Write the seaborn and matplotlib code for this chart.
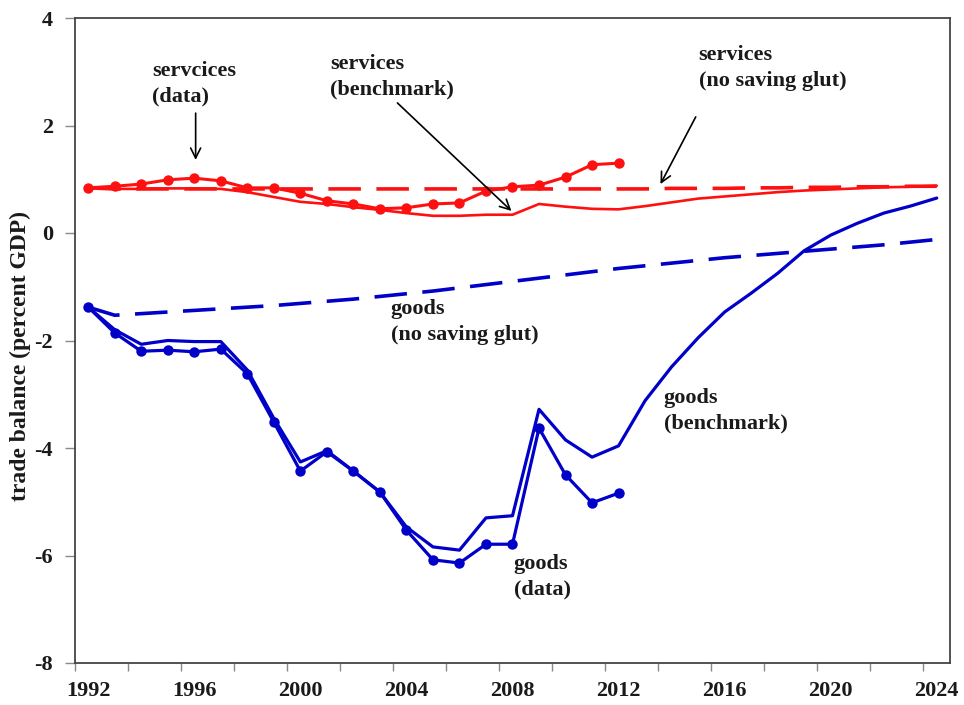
import matplotlib
matplotlib.use("Agg")
import matplotlib.pyplot as plt
import seaborn as sns
import pandas as pd

# ---------------- data ----------------
years_data = list(range(1992, 2013))
years_model = list(range(1992, 2025))

services_data = [0.84, 0.87, 0.91, 0.99, 1.02, 0.97, 0.84, 0.84, 0.74, 0.60, 0.54,
                 0.45, 0.47, 0.54, 0.56, 0.78, 0.86, 0.89, 1.04, 1.27, 1.30]
services_benchmark = [0.84, 0.82, 0.82, 0.83, 0.83, 0.82, 0.76, 0.67, 0.58, 0.54, 0.48,
                      0.43, 0.37, 0.32, 0.32, 0.34, 0.34, 0.54, 0.49, 0.45, 0.44, 0.50,
                      0.57, 0.64, 0.68, 0.72, 0.76, 0.79, 0.81, 0.83, 0.85, 0.86, 0.88]
services_noglut = [0.84, 0.82, 0.82, 0.82, 0.82, 0.82, 0.82, 0.82, 0.82, 0.82, 0.82,
                   0.82, 0.82, 0.82, 0.82, 0.82, 0.82, 0.82, 0.82, 0.82, 0.82, 0.82,
                   0.83, 0.83, 0.83, 0.84, 0.84, 0.85, 0.85, 0.86, 0.86, 0.87, 0.87]

goods_data = [-1.38, -1.86, -2.20, -2.18, -2.21, -2.16, -2.62, -3.52, -4.43, -4.07, -4.43,
              -4.82, -5.53, -6.08, -6.14, -5.79, -5.79, -3.63, -4.50, -5.02, -4.84]
goods_benchmark = [-1.38, -1.80, -2.07, -2.00, -2.02, -2.02, -2.55, -3.45, -4.26, -4.05, -4.43,
                   -4.82, -5.47, -5.84, -5.90, -5.30, -5.26, -3.28, -3.85, -4.17, -3.96, -3.12,
                   -2.49, -1.95, -1.47, -1.12, -0.75, -0.33, -0.04, 0.18, 0.37, 0.50, 0.65]
goods_noglut = [-1.38, -1.53, -1.50, -1.47, -1.44, -1.41, -1.38, -1.35, -1.31, -1.27, -1.23,
                -1.18, -1.13, -1.08, -1.02, -0.96, -0.90, -0.84, -0.78, -0.72, -0.66, -0.61,
                -0.56, -0.51, -0.46, -0.42, -0.38, -0.34, -0.30, -0.26, -0.22, -0.17, -0.12]

y_ticks = [-8, -6, -4, -2, 0, 2, 4]
x_label_years = [1992, 1996, 2000, 2004, 2008, 2012, 2016, 2020, 2024]

annotations = [
    # text, text pos (year, value), arrow from, arrow to
    ("servcices\n(data)", (1994.42, 2.78), (1996.05, 2.23), (1996.05, 1.36)),
    ("services\n(benchmark)", (2001.13, 2.90), (2003.66, 2.42), (2007.96, 0.41)),
    ("services\n(no saving glut)", (2015.02, 3.07), (2014.91, 2.16), (2013.58, 0.91)),
    ("goods\n(no saving glut)", (2003.40, -1.66), None, None),
    ("goods\n(benchmark)", (2013.70, -3.31), None, None),
    ("goods\n(data)", (2008.04, -6.40), None, None),
]

# ---------------- style ----------------
sns.set_style("white")
plt.rcParams["font.family"] = ["Liberation Serif", "DejaVu Serif"]
plt.rcParams["font.weight"] = "bold"
plt.rcParams["axes.unicode_minus"] = False

RED = "#ff1010"
BLUE = "#0000c8"
TXT = "#1a1a1a"
DASH = (0, (9, 4.3))

fig = plt.figure(figsize=(9.64, 7.05), dpi=100)
ax = fig.add_axes([75 / 964, 1 - 663 / 705, (950 - 75) / 964, (663 - 18) / 705])

df_d = pd.DataFrame({"year": years_data, "services": services_data, "goods": goods_data})
df_m = pd.DataFrame({"year": years_model, "s_bench": services_benchmark,
                     "s_noglut": services_noglut, "g_bench": goods_benchmark,
                     "g_noglut": goods_noglut})

# services
sns.lineplot(data=df_m, x="year", y="s_noglut", ax=ax, color=RED, linewidth=2.6,
             linestyle=DASH, errorbar=None)
sns.lineplot(data=df_m, x="year", y="s_bench", ax=ax, color=RED, linewidth=1.9,
             errorbar=None)
sns.lineplot(data=df_d, x="year", y="services", ax=ax, color=RED, linewidth=2.2,
             marker="o", markersize=7.5, markeredgewidth=0, errorbar=None)
# goods
sns.lineplot(data=df_m, x="year", y="g_noglut", ax=ax, color=BLUE, linewidth=2.6,
             linestyle=DASH, errorbar=None)
sns.lineplot(data=df_m, x="year", y="g_bench", ax=ax, color=BLUE, linewidth=2.3,
             errorbar=None)
sns.lineplot(data=df_d, x="year", y="goods", ax=ax, color=BLUE, linewidth=2.3,
             marker="o", markersize=7.5, markeredgewidth=0, errorbar=None)

# ---------------- axes ----------------
ax.set_xlim(1991.5, 2024.5)
ax.set_ylim(-8, 4)
ax.set_yticks(y_ticks)
ax.set_yticklabels([str(v) for v in y_ticks], fontsize=16, fontweight="bold", color=TXT)
ax.set_xticks([1991.5 + 2 * k for k in range(17)])
ax.set_xticklabels([])
ax.set_xticks(x_label_years, minor=True)
ax.set_xticklabels([str(v) for v in x_label_years], minor=True, fontsize=16,
                   fontweight="bold", color=TXT)
ax.tick_params(axis="x", which="major", direction="out", length=6, width=1, color="#888888",
               bottom=True)
ax.tick_params(axis="x", which="minor", length=0, pad=13, bottom=True)
ax.tick_params(axis="y", direction="out", length=7, width=1, color="#888888", pad=9, left=True)
ax.set_xlabel("")
ax.set_ylabel("trade balance (percent GDP)", fontsize=17, fontweight="bold", color=TXT)
ax.yaxis.set_label_coords(-0.050, 0.476)
for sp in ax.spines.values():
    sp.set_visible(True)
    sp.set_color("#444444")
    sp.set_linewidth(1.3)

for text, tpos, a_from, a_to in annotations:
    ax.text(tpos[0], tpos[1], text, ha="left", va="center", fontsize=16,
            fontweight="bold", color=TXT, linespacing=1.38)
    if a_from is not None:
        ax.annotate("", xy=a_to, xytext=a_from,
                    arrowprops=dict(arrowstyle="->", color="black", lw=1.2,
                                    mutation_scale=18, shrinkA=0, shrinkB=0))

fig.savefig("out.png", dpi=100)
